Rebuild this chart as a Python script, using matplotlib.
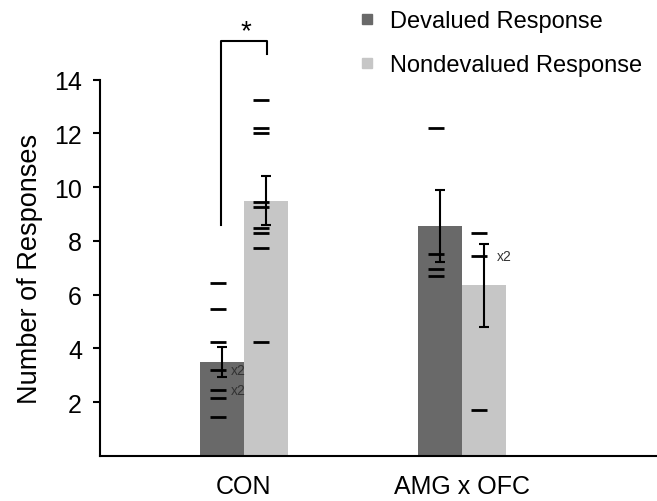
import matplotlib
matplotlib.use("Agg")
import matplotlib.pyplot as plt
from matplotlib.lines import Line2D
import numpy as np

plt.rcParams['font.family'] = ['Liberation Sans', 'DejaVu Sans']

groups = ["CON", "AMG x OFC"]
series = ["Devalued Response", "Nondevalued Response"]
means_dev = [3.5, 8.55]
means_nondev = [9.5, 6.35]
sem_dev = [0.55, 1.35]
sem_nondev = [0.9, 1.55]

# individual animals
pts_con_dev = [6.45, 5.45, 4.25, 3.2, 2.45, 2.15, 1.45]
pts_con_nondev = [13.25, 12.2, 12.0, 9.45, 9.25, 8.5, 8.3, 7.75, 4.25]
pts_amg_dev = [12.2, 7.5, 6.95, 6.7]
pts_amg_nondev = [8.3, 7.45, 1.7]

dark = '#696969'
light = '#c6c6c6'

fig = plt.figure(figsize=(6.57, 5.02), dpi=100)
ax = fig.add_axes([100 / 657, 1 - 457 / 502, 557 / 657, 457 / 502])

x = np.arange(len(groups))
w = 0.2
ax.bar(x - w / 2, means_dev, w, color=dark, label=series[0], zorder=1)
ax.bar(x + w / 2, means_nondev, w, color=light, label=series[1], zorder=1)
ax.errorbar(x - w / 2, means_dev, yerr=sem_dev, fmt='none', ecolor='black',
            elinewidth=1.5, capsize=3.5, capthick=1.5, zorder=3)
ax.errorbar(x + w / 2, means_nondev, yerr=sem_nondev, fmt='none', ecolor='black',
            elinewidth=1.5, capsize=3.5, capthick=1.5, zorder=3)

off = -0.02
dash = dict(marker='_', ms=12, mew=2, color='black', ls='none', zorder=2)
ax.plot([x[0] - w / 2 + off] * len(pts_con_dev), pts_con_dev, **dash)
ax.plot([x[0] + w / 2 + off] * len(pts_con_nondev), pts_con_nondev, **dash)
ax.plot([x[1] - w / 2 + off] * len(pts_amg_dev), pts_amg_dev, **dash)
ax.plot([x[1] + w / 2 + off] * len(pts_amg_nondev), pts_amg_nondev, **dash)

ax.text(x[0] - w / 2 + 0.04, 3.2, "x2", fontsize=10, color='#333333', va='center')
ax.text(x[0] - w / 2 + 0.04, 2.45, "x2", fontsize=10, color='#333333', va='center')
ax.text(x[1] + w / 2 + 0.06, 7.45, "x2", fontsize=10, color='#333333', va='center')

# significance bracket
ax.plot([-0.107, -0.107, 0.104, 0.104], [8.6, 15.45, 15.45, 14.95],
        color='black', lw=1.5, clip_on=False)
ax.text(0.01, 15.8, "*", fontsize=20, ha='center', va='center')

ax.set_xlim(-0.66, 1.894)
ax.set_ylim(0, 17.0)
ax.set_yticks([2, 4, 6, 8, 10, 12, 14])
ax.set_xticks(x)
ax.set_xticklabels(groups, fontsize=18)
ax.tick_params(axis='x', length=0, pad=13)
ax.tick_params(axis='y', labelsize=18, width=1.5, length=5, pad=8)
ax.set_ylabel("Number of Responses", fontsize=19.5)
ax.yaxis.set_label_coords(-0.102, 7 / 17)
ax.spines['top'].set_visible(False)
ax.spines['right'].set_visible(False)
ax.spines['left'].set_linewidth(1.5)
ax.spines['bottom'].set_linewidth(1.5)
ax.spines['left'].set_bounds(0, 14)

handles = [Line2D([], [], marker='s', ls='none', color=dark, ms=7),
           Line2D([], [], marker='s', ls='none', color=light, ms=7)]
fig.legend(handles, series, loc='upper left', bbox_to_anchor=(336 / 657, 1.02),
           frameon=False, fontsize=17, handlelength=0.8, handletextpad=0.6,
           labelspacing=0.92)

fig.savefig("out.png", dpi=100)
